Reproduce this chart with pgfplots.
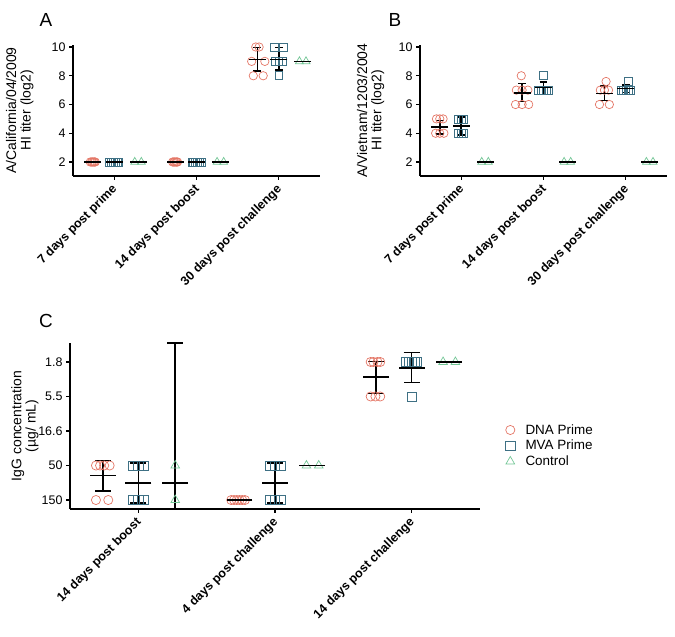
\documentclass[border=0pt]{standalone}
\usepackage{fontspec}
\setmainfont{Liberation Sans}
\usepackage{pgfplots}
\pgfplotsset{compat=1.18}
\usepackage{pgfplotstable}
\definecolor{dnacol}{RGB}{228,118,102}
\definecolor{mvacol}{RGB}{62,112,132}
\definecolor{ctrlcol}{RGB}{115,198,150}

% ---------- Panel A data ----------
\pgfplotstableread{
x y
-0.29 2
-0.275 2
-0.265 2
-0.25 2
-0.24 2
-0.23 2
0.71 2
0.725 2
0.735 2
0.75 2
0.76 2
0.77 2
1.72 10
1.76 10
1.67 9
1.83 9
1.69 8
1.81 8
}\dnaA
\pgfplotstableread{
x y
-0.055 2
-0.033 2
-0.011 2
0.011 2
0.033 2
0.055 2
0.945 2
0.967 2
0.989 2
1.011 2
1.033 2
1.055 2
1.95 10
2.06 10
1.96 9
2.0 9
2.04 9
2.0 8
}\mvaA
\pgfplotstableread{
x y
0.25 2
0.33 2
1.25 2
1.33 2
2.25 9
2.33 9
}\ctrlA
\pgfplotstableread{
x y ep em
-0.26 2 0 0
0 2 0 0
0.29 2 0 0
0.74 2 0 0
1 2 0 0
1.29 2 0 0
1.74 9.12 0.83 0.80
2 9.12 0.83 0.73
2.29 9 0 0
}\meanA

% ---------- Panel B data ----------
\pgfplotstableread{
x y
-0.30 5
-0.26 5
-0.22 5
-0.31 4
-0.26 4
-0.21 4
0.73 8
0.67 7
0.74 7
0.81 7
0.66 6
0.74 6
0.82 6
1.76 7.6
1.69 7
1.74 7
1.79 7
1.68 6
1.80 6
}\dnaB
\pgfplotstableread{
x y
-0.03 5
0 5
0.03 5
-0.03 4
0 4
0.03 4
1 8
0.94 7
0.97 7
1 7
1.03 7
1.06 7
2.03 7.6
1.94 7
1.97 7
2 7
2.03 7
2.06 7
}\mvaB
\pgfplotstableread{
x y
0.25 2
0.33 2
1.25 2
1.33 2
2.25 2
2.33 2
}\ctrlB
\pgfplotstableread{
x y ep em
-0.26 4.42 0.46 0.46
0 4.52 0.60 0.63
0.29 2 0 0
0.74 6.82 0.65 0.62
1 7.17 0.41 0.47
1.29 2 0 0
1.74 6.77 0.51 0.50
2 7.12 0.23 0.28
2.29 2 0 0
}\meanB

% ---------- Panel C data (y: 0=150, 1=50, 2=16.6, 3=5.5, 4=1.8) ----------
\pgfplotstableread{
x y
-0.31 1
-0.28 1
-0.25 1
-0.21 1
-0.31 0
-0.22 0
0.68 0
0.70 0
0.72 0
0.74 0
0.76 0
0.78 0
1.70 4
1.72 4
1.75 4
1.77 4
1.70 3
1.735 3
1.77 3
}\dnaC
\pgfplotstableread{
x y
-0.04 1
0 1
0.04 1
-0.04 0
0 0
0.04 0
0.96 1
1 1
1.04 1
0.96 0
1 0
1.04 0
1.96 4
1.98 4
2 4
2.02 4
2.04 4
2 3
}\mvaC
\pgfplotstableread{
x y
0.27 1
0.27 0
1.23 1
1.32 1
2.23 4
2.32 4
}\ctrlC
\pgfplotstableread{
x y ep em
-0.26 0.71 0.44 0.45
0 0.5 0.58 0.58
0.27 0.5 4.05 0.76
0.74 0 0 0
1 0.5 0.58 0.58
1.27 1 0 0
1.74 3.57 0.44 0.49
2 3.83 0.44 0.43
2.27 4 0 0
}\meanC

\pgfplotsset{
  panel/.style={
    scale only axis, axis lines=left,
    axis line style={-, line width=1.4pt, black},
    enlargelimits=false, clip=false,
    xmin=-0.5, xmax=2.5, xtick={0,1,2},
    tick align=outside, major tick length=4pt,
    tick style={line width=1.3pt, black},
    /pgf/number format/assume math mode=true,
    tick label style={font=\fontsize{12.5}{15}\selectfont},
    xticklabel style={xshift=2.5bp, yshift=-6bp, rotate=45, anchor=east, inner sep=2pt,
      font=\fontsize{12.5}{15}\selectfont\bfseries},
    ylabel style={font=\fontsize{14}{14.5}\selectfont, align=center, anchor=south},
  },
  dna/.style={only marks, mark=o, mark size=#1, mark options={draw=dnacol, line width=0.7pt}},
  mva/.style={only marks, mark=square, mark size=#1, mark options={draw=mvacol, line width=0.7pt}},
  ctrl/.style={only marks, mark=triangle, mark size=#1, mark options={draw=ctrlcol, line width=0.7pt}},
  meansd/.style 2 args={only marks, mark=-, mark size=#1,
    mark options={black, line width=1.6pt},
    error bars/.cd, y dir=both, y explicit,
    error bar style={line width=1.5pt, black},
    error mark=|, error mark options={mark size=#2, line width=1.5pt, black},
    /pgfplots/.cd},
}

\begin{document}
\begin{tikzpicture}
\useasboundingbox (0bp,0bp) rectangle (675bp,637bp);

% ---------- A ----------
\begin{axis}[panel, at={(73bp,461bp)}, anchor=south west, width=247bp, height=131bp,
  ymin=1.026, ymax=10.14, ytick={2,4,6,8,10},
  xticklabels={7 days post prime,14 days post boost,30 days post challenge},
  ylabel={A/California/04/2009\\HI titer (log2)},
  ylabel style={at={(axis description cs:-0.146,0.5)}}]
\addplot[dna=4.2pt] table {\dnaA};
\addplot[mva=4pt] table {\mvaA};
\addplot[ctrl=4.6pt] table {\ctrlA};
\addplot[meansd={8.5pt}{4pt}] table[x=x,y=y,y error plus=ep,y error minus=em] {\meanA};
\end{axis}

% ---------- B ----------
\begin{axis}[panel, at={(420bp,461bp)}, anchor=south west, width=247bp, height=131bp,
  ymin=1.026, ymax=10.14, ytick={2,4,6,8,10},
  xticklabels={7 days post prime,14 days post boost,30 days post challenge},
  ylabel={A/Vietnam/1203/2004\\HI titer (log2)},
  ylabel style={at={(axis description cs:-0.13,0.5)}}]
\addplot[dna=4.2pt] table {\dnaB};
\addplot[mva=4pt] table {\mvaB};
\addplot[ctrl=4.6pt] table {\ctrlB};
\addplot[meansd={8.5pt}{4pt}] table[x=x,y=y,y error plus=ep,y error minus=em] {\meanB};
\end{axis}

% ---------- C ----------
\begin{axis}[panel, at={(70bp,128bp)}, anchor=south west, width=410bp, height=166bp,
  ymin=-0.26, ymax=4.55, ytick={0,1,2,3,4},
  yticklabels={150,50,16.6,5.5,1.8},
  xticklabels={14 days post boost,4 days post challenge,14 days post challenge},
  ylabel={IgG concentration\\(µg/ mL)},
  ylabel style={at={(axis description cs:-0.068,0.5)}},
  legend image code/.code={\path (0bp,0bp) (17bp,0bp); \draw[#1] plot coordinates {(4bp,0bp)};},
  legend style={at={(axis description cs:1.055,0.535)}, anchor=north west,
    draw=none, fill=none, font=\fontsize{13.5}{15}\selectfont, row sep=0.5pt},
  legend cell align=left]
\addplot[forget plot, dna=4.6pt] table {\dnaC};
\addplot[forget plot, mva=4.6pt] table {\mvaC};
\addplot[forget plot, ctrl=5pt] table {\ctrlC};
\addplot[forget plot, meansd={13pt}{8pt}] table[x=x,y=y,y error plus=ep,y error minus=em] {\meanC};
\addlegendimage{dna=4.6pt}
\addlegendentry{DNA Prime}
\addlegendimage{mva=4.6pt}
\addlegendentry{MVA Prime}
\addlegendimage{ctrl=5pt}
\addlegendentry{Control}
\end{axis}

\node[font=\fontsize{19}{20}\selectfont] at (46bp,617bp) {A};
\node[font=\fontsize{19}{20}\selectfont] at (395bp,617bp) {B};
\node[font=\fontsize{19}{20}\selectfont] at (46bp,316bp) {C};
\end{tikzpicture}
\end{document}
